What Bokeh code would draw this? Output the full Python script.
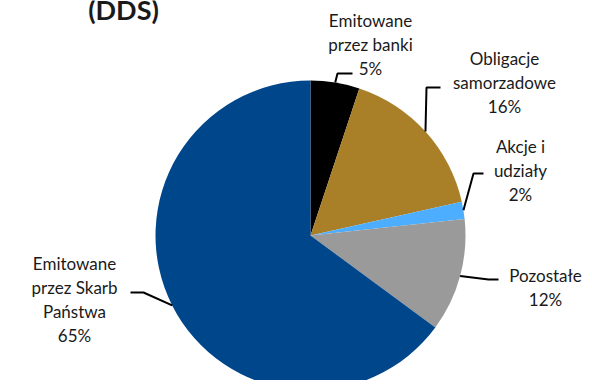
import math
from bokeh.plotting import figure
from bokeh.models import Range1d
from bokeh.core.properties import value
from bokeh.embed import file_html
from bokeh.resources import INLINE

# ---- data ----
categories = ["Emitowane przez banki", "Obligacje samorzadowe", "Akcje i udziały",
              "Pozostałe", "Emitowane przez Skarb Państwa"]
shares = [5.1, 16.4, 1.8, 11.8, 64.9]
label_lines = [["Emitowane", "przez banki"], ["Obligacje", "samorzadowe"],
               ["Akcje i", "udziały"], ["Pozostałe"], ["Emitowane", "przez Skarb", "Państwa"]]
colors = ["#000000", "#A97F27", "#4DAEFF", "#9A9A9A", "#00468B"]
title_text = "(DDS)"

# ---- layout (screen pixel coords, y downward) ----
W, H = 584, 380
def Y(ys):
    return 388 - ys

cx, cy, R = 310, 235, 155
FONT = "Lato"
FS = "17px"
LH = 24
TSHIFT = -7
# label center x, first-line baseline y
label_pos = [(370, 27), (504, 65), (520, 153), (545, 282), (74, 270)]
# leader elbow points after rim point
leader_pts = [[(337, 73), (352, 73)],
              [(426, 87), (440, 87)],
              [(473, 173), (483, 173)],
              [(488, 279), (498, 279)],
              [(143, 292), (130, 292)]]

p = figure(width=W, height=H, output_backend="svg", toolbar_location=None,
           x_range=Range1d(0, W), y_range=Range1d(Y(H), Y(0)),
           min_border=0, outline_line_color=None)
p.axis.visible = False
p.grid.visible = False
p.background_fill_color = "white"
p.border_fill_color = "white"

total = sum(shares)
cum = 0.0
starts, ends, mids = [], [], []
for s in shares:
    a0 = math.pi / 2 - 2 * math.pi * (cum + s) / total
    a1 = math.pi / 2 - 2 * math.pi * cum / total
    starts.append(a0)
    ends.append(a1)
    mids.append((a0 + a1) / 2)
    cum += s

p.wedge(x=[cx] * len(shares), y=[Y(cy)] * len(shares), radius=R,
        start_angle=starts, end_angle=ends, fill_color=colors, line_color=None)

# leaders
for i, m in enumerate(mids):
    rx = cx + R * math.cos(m)
    ry = Y(cy) + R * math.sin(m)
    xs = [rx] + [pt[0] for pt in leader_pts[i]]
    ys = [ry] + [Y(pt[1]) for pt in leader_pts[i]]
    p.line(xs, ys, line_color="black", line_width=2)

# labels
for i, lines in enumerate(label_lines):
    lx, ly = label_pos[i]
    txt = lines + [f"{round(shares[i])}%"]
    p.text(x=[lx] * len(txt), y=[Y(ly + TSHIFT + k * LH) for k in range(len(txt))], text=txt,
           text_align="center", text_baseline="alphabetic",
           text_font=value(FONT), text_font_size=FS, text_color="#1a1a1a")

p.text(x=[123], y=[Y(9)], text=[title_text], text_align="center",
       text_baseline="alphabetic", text_font=value(FONT), text_font_size="27px",
       text_font_style="bold", text_color="#1a1a1a")

open("out.html", "w").write(file_html(p, INLINE))
